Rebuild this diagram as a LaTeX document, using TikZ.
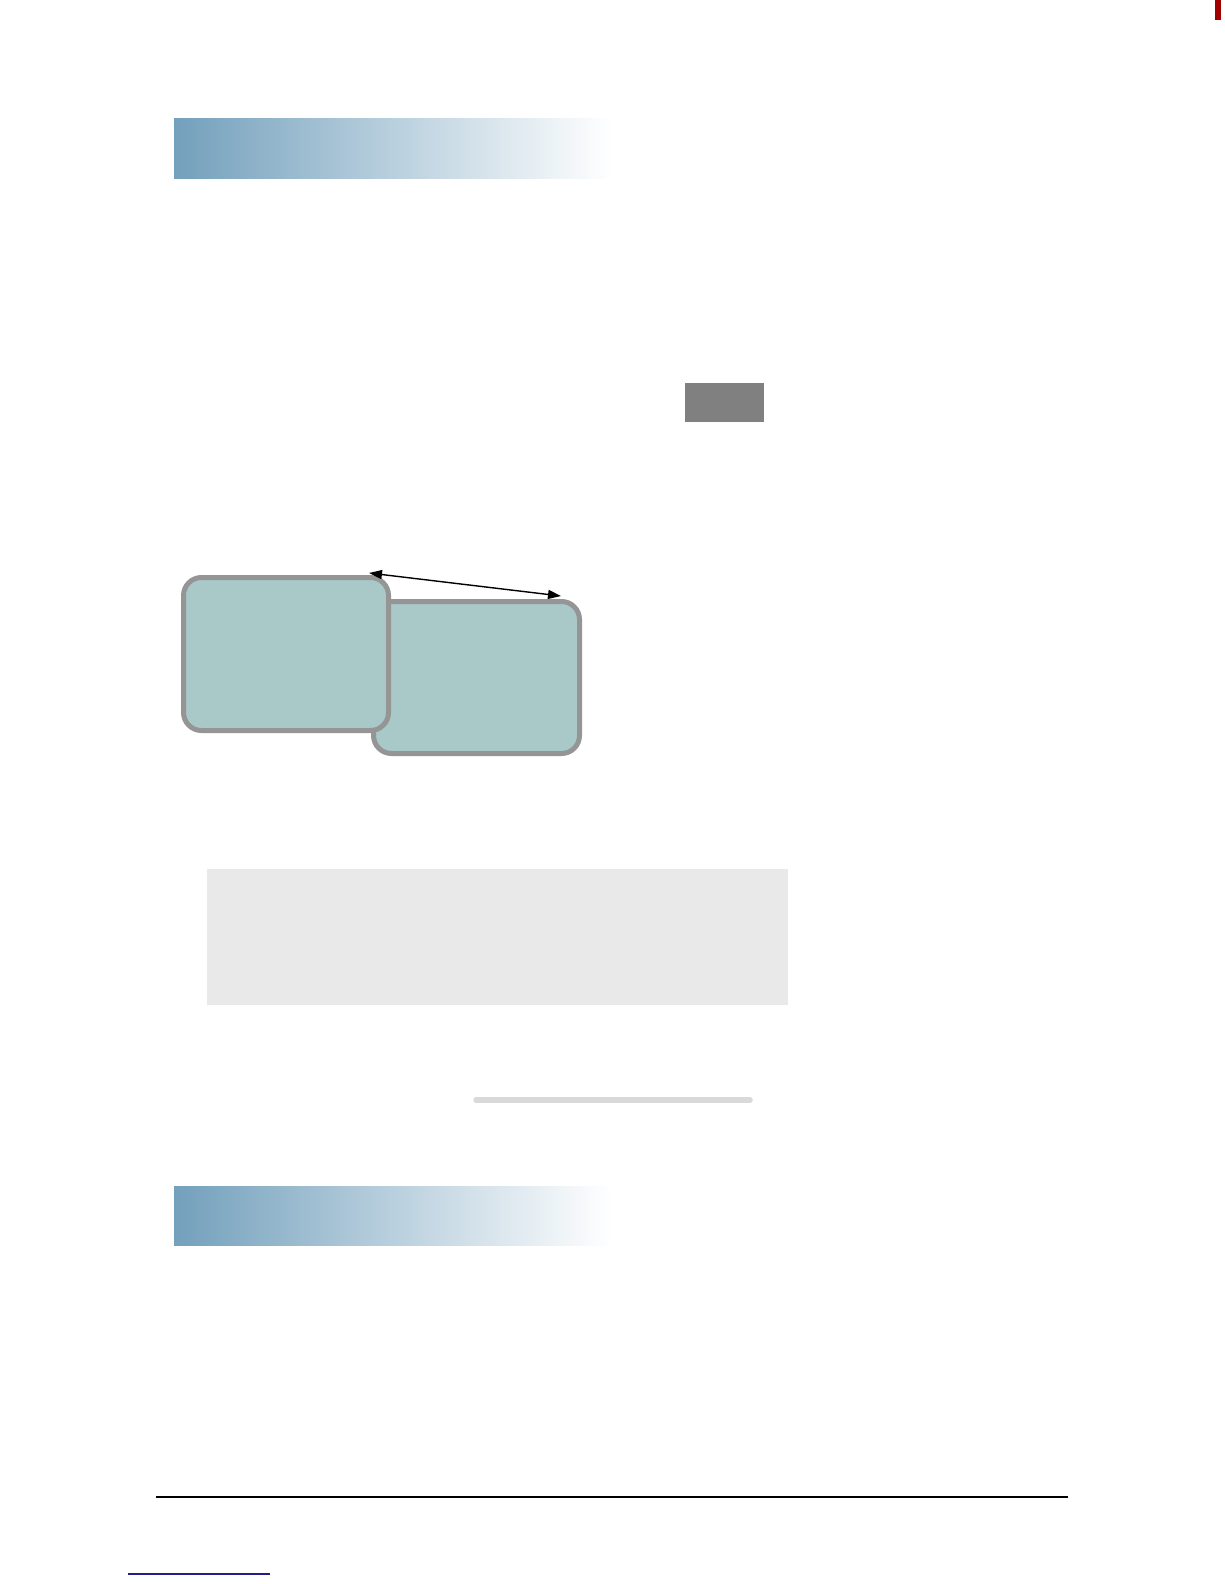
\documentclass[tikz,border=0pt]{standalone}
\usetikzlibrary{arrows.meta}
\definecolor{barblue}{HTML}{73A0BC}
\definecolor{boxfill}{HTML}{A9C8C8}
\definecolor{boxline}{HTML}{959595}
\definecolor{panelgray}{HTML}{E9E9E9}
\definecolor{darkbox}{HTML}{808080}
\definecolor{slimbar}{HTML}{D9D9D9}
\definecolor{linkblue}{HTML}{1F1F8C}
\definecolor{markred}{HTML}{A00000}
\tikzset{
  headbar/.style={left color=barblue, right color=white, draw=none},
  roundbox/.style={rectangle, rounded corners=18pt, draw=boxline, line width=5pt, fill=boxfill, inner sep=0pt},
  twoway/.style={{Triangle[length=13pt,width=9pt]}-{Triangle[length=13pt,width=9pt]}, line width=1.4pt, black},
}
\begin{document}
\begin{tikzpicture}[x=1pt,y=-1pt]
\useasboundingbox[fill=white] (0,0) rectangle (1224,1584);
% top-right mark
\fill[markred] (1215,0) rectangle (1221,20);
% heading bars
\shade[headbar] (174,119) rectangle (612,178);
\shade[headbar] (174,1186) rectangle (612,1245);
% dark gray block
\node[rectangle, fill=darkbox, inner sep=0pt, minimum width=79pt, minimum height=39pt] (gblock) at (724.5,402.5) {};
% two rounded boxes
\node[roundbox, minimum width=206pt, minimum height=152pt] (rbox) at (476.5,677.5) {};
\node[roundbox, minimum width=205pt, minimum height=153pt] (lbox) at (286,654) {};
\coordinate (a1) at (369,573);
\coordinate (a2) at (561,596);
\draw[twoway] (a1) -- (a2);
% light gray panel
\node[rectangle, fill=panelgray, inner sep=0pt, minimum width=581pt, minimum height=136pt] (panel) at (497.5,937) {};
% slim bar
\coordinate (s1) at (476,1100);
\coordinate (s2) at (750,1100);
\draw[slimbar, line width=5.5pt, line cap=round] (s1) -- (s2);
% footer rule
\coordinate (f1) at (156,1497);
\coordinate (f2) at (1068,1497);
\draw[black, line width=1.2pt] (f1) -- (f2);
% footnote link underline
\coordinate (u1) at (128,1574);
\coordinate (u2) at (270,1574);
\draw[linkblue, line width=1.2pt] (u1) -- (u2);
\end{tikzpicture}
\end{document}
